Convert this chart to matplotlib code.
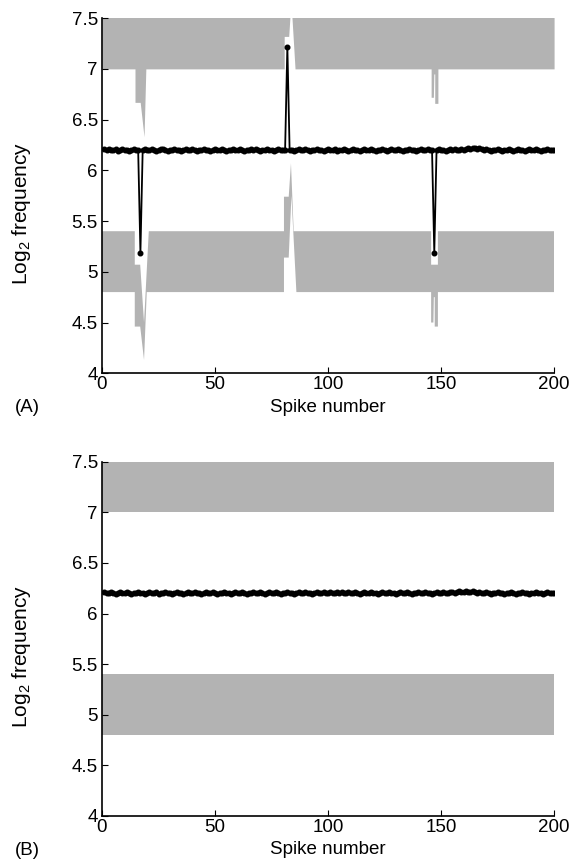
import numpy as np
import matplotlib
matplotlib.use('Agg')
import matplotlib.pyplot as plt

plt.rcParams.update({
    'font.family'      : 'Liberation Sans',
    'font.size'        : 13.5,
    'mathtext.default' : 'regular',
    'axes.linewidth'   : 1.2,
    'xtick.direction'  : 'in',
    'ytick.direction'  : 'in',
    'xtick.major.size' : 4,
    'ytick.major.size' : 4,
    'xtick.major.pad'  : 2,
    'ytick.major.pad'  : 3,
})
GRAY  = '#b3b3b3'
BLACK = '#000000'

# ─────────────────────────────────────────────────────
# data
# ─────────────────────────────────────────────────────
spike_n = np.arange(1, 201)

# panel A: log2 frequency per spike (three outliers at 17, 82, 147)
log_a = [
    6.21, 6.20, 6.21, 6.20, 6.20, 6.21, 6.19, 6.20, 6.21, 6.20,
    6.20, 6.19, 6.20, 6.21, 6.20, 6.20, 5.19, 6.20, 6.21, 6.20,
    6.20, 6.21, 6.20, 6.19, 6.20, 6.21, 6.21, 6.20, 6.19, 6.20,
    6.20, 6.21, 6.20, 6.20, 6.19, 6.20, 6.21, 6.20, 6.20, 6.21,
    6.20, 6.19, 6.20, 6.20, 6.21, 6.20, 6.20, 6.19, 6.20, 6.21,
    6.20, 6.20, 6.21, 6.20, 6.19, 6.20, 6.20, 6.21, 6.20, 6.20,
    6.21, 6.20, 6.19, 6.20, 6.20, 6.21, 6.20, 6.21, 6.20, 6.19,
    6.20, 6.20, 6.21, 6.20, 6.20, 6.19, 6.20, 6.21, 6.20, 6.20,
    6.20, 7.22, 6.20, 6.20, 6.19, 6.20, 6.21, 6.20, 6.20, 6.21,
    6.20, 6.19, 6.20, 6.20, 6.21, 6.20, 6.20, 6.19, 6.20, 6.21,
    6.20, 6.20, 6.21, 6.19, 6.20, 6.20, 6.21, 6.20, 6.19, 6.20,
    6.21, 6.20, 6.20, 6.19, 6.20, 6.21, 6.20, 6.20, 6.21, 6.20,
    6.19, 6.20, 6.20, 6.21, 6.20, 6.19, 6.20, 6.21, 6.20, 6.20,
    6.21, 6.20, 6.19, 6.20, 6.20, 6.21, 6.20, 6.20, 6.19, 6.20,
    6.21, 6.20, 6.20, 6.21, 6.20, 6.20, 5.19, 6.20, 6.21, 6.20,
    6.20, 6.19, 6.20, 6.21, 6.20, 6.21, 6.20, 6.20, 6.21, 6.20,
    6.21, 6.22, 6.21, 6.22, 6.22, 6.21, 6.22, 6.21, 6.20, 6.21,
    6.20, 6.19, 6.20, 6.20, 6.21, 6.20, 6.19, 6.20, 6.20, 6.21,
    6.20, 6.19, 6.20, 6.21, 6.20, 6.20, 6.19, 6.20, 6.21, 6.20,
    6.20, 6.21, 6.20, 6.19, 6.20, 6.20, 6.21, 6.20, 6.20, 6.20,
]

# panel B: same measure, no outliers
log_b = [
    6.21, 6.20, 6.20, 6.21, 6.20, 6.19, 6.20, 6.21, 6.20, 6.20,
    6.21, 6.20, 6.19, 6.20, 6.20, 6.21, 6.20, 6.20, 6.19, 6.20,
    6.21, 6.20, 6.20, 6.21, 6.19, 6.20, 6.20, 6.21, 6.20, 6.20,
    6.19, 6.20, 6.21, 6.20, 6.20, 6.19, 6.20, 6.21, 6.20, 6.20,
    6.21, 6.20, 6.20, 6.19, 6.20, 6.21, 6.20, 6.20, 6.21, 6.20,
    6.19, 6.20, 6.20, 6.21, 6.20, 6.20, 6.19, 6.20, 6.21, 6.20,
    6.20, 6.21, 6.20, 6.19, 6.20, 6.20, 6.21, 6.20, 6.20, 6.21,
    6.20, 6.19, 6.20, 6.21, 6.20, 6.20, 6.21, 6.20, 6.19, 6.20,
    6.20, 6.21, 6.20, 6.20, 6.19, 6.20, 6.21, 6.20, 6.20, 6.21,
    6.20, 6.20, 6.19, 6.20, 6.21, 6.20, 6.20, 6.21, 6.20, 6.20,
    6.21, 6.20, 6.20, 6.21, 6.20, 6.21, 6.20, 6.20, 6.21, 6.20,
    6.20, 6.21, 6.20, 6.19, 6.20, 6.21, 6.20, 6.20, 6.21, 6.20,
    6.20, 6.19, 6.20, 6.21, 6.20, 6.20, 6.21, 6.20, 6.20, 6.19,
    6.20, 6.21, 6.20, 6.20, 6.21, 6.20, 6.19, 6.20, 6.20, 6.21,
    6.20, 6.20, 6.21, 6.20, 6.20, 6.19, 6.20, 6.21, 6.20, 6.20,
    6.21, 6.20, 6.20, 6.21, 6.21, 6.20, 6.21, 6.22, 6.21, 6.21,
    6.22, 6.21, 6.21, 6.22, 6.21, 6.20, 6.21, 6.20, 6.20, 6.21,
    6.20, 6.19, 6.20, 6.20, 6.21, 6.20, 6.20, 6.19, 6.20, 6.20,
    6.21, 6.20, 6.19, 6.20, 6.20, 6.21, 6.20, 6.20, 6.19, 6.20,
    6.20, 6.21, 6.20, 6.20, 6.19, 6.20, 6.21, 6.20, 6.20, 6.20,
]

# panel A: gray bands (edge vertices)
up_a_x = [0, 14.6, 14.6, 16.9, 18.6, 19.4, 80.6, 80.6, 82.6, 83.6, 85.4,
          145.6, 145.6, 146.6, 146.8, 147.2, 147.2, 148.6, 148.6, 200]
up_a_y = [7.0, 7.0, 6.67, 6.67, 6.33, 7.0, 7.0, 7.32, 7.32, 7.67, 7.0,
          7.0, 6.72, 6.72, 6.95, 6.95, 6.66, 6.66, 7.0, 7.0]

lo_bot_a_x = [0, 14.5, 14.5, 16.9, 18.6, 19.8, 80.5, 80.5, 82.6, 83.8, 86.0,
              145.6, 145.6, 146.6, 146.8, 147.2, 147.2, 148.6, 148.6, 200]
lo_bot_a_y = [4.8, 4.8, 4.46, 4.46, 4.13, 4.8, 4.8, 5.14, 5.14, 5.75, 4.8,
              4.8, 4.5, 4.5, 4.75, 4.75, 4.46, 4.46, 4.8, 4.8]
lo_top_a_x = [0, 14.5, 14.5, 16.9, 18.6, 20.7, 80.5, 80.5, 82.6, 83.6, 84.8,
              145.6, 145.6, 148.6, 148.6, 200]
lo_top_a_y = [5.4, 5.4, 5.07, 5.07, 4.5, 5.4, 5.4, 5.74, 5.74, 6.07, 5.4,
              5.4, 5.07, 5.07, 5.4, 5.4]

# panel B: flat bands
band_b_x   = [0, 200]
up_b_lo    = [7.0, 7.0]
lo_b_lo    = [4.8, 4.8]
lo_b_hi    = [5.4, 5.4]
BAND_TOP   = 7.6

XTICKS = [0, 50, 100, 150, 200]
YTICKS = [4, 4.5, 5, 5.5, 6, 6.5, 7, 7.5]
YTICKLABELS = ['4', '4.5', '5', '5.5', '6', '6.5', '7', '7.5']


def style_axes(ax, tag):
    ax.set_xlim(0, 200)
    ax.set_ylim(4, 7.5)
    ax.set_xticks(XTICKS)
    ax.set_yticks(YTICKS)
    ax.set_yticklabels(YTICKLABELS)
    ax.spines['top'].set_visible(False)
    ax.spines['right'].set_visible(False)
    ax.set_xlabel('Spike number', labelpad=4)
    ax.set_ylabel('Log$_2$ frequency', fontsize=15)
    ax.yaxis.set_label_coords(-0.153, 0.45)
    ax.text(-0.165, -0.097, tag, transform=ax.transAxes,
            ha='center', va='center')


fig = plt.figure(figsize=(5.73, 8.64), dpi=100)

# ─────────────────────────────────────────────────────
# panel A
# ─────────────────────────────────────────────────────
ax = fig.add_axes([0.178, 0.568, 0.789, 0.411])
ax.fill_between(up_a_x, up_a_y, BAND_TOP, color=GRAY, lw=0)
ax.fill(np.concatenate([lo_bot_a_x, lo_top_a_x[::-1]]),
        np.concatenate([lo_bot_a_y, lo_top_a_y[::-1]]),
        color=GRAY, lw=0)
ax.plot(spike_n, log_a, '-', color=BLACK, lw=1.3,
        marker='o', ms=3.3, mfc=BLACK, mec=BLACK)
style_axes(ax, '(A)')

# ─────────────────────────────────────────────────────
# panel B
# ─────────────────────────────────────────────────────
ax = fig.add_axes([0.178, 0.0556, 0.789, 0.410])
ax.fill_between(band_b_x, up_b_lo, BAND_TOP, color=GRAY, lw=0)
ax.fill_between(band_b_x, lo_b_lo, lo_b_hi, color=GRAY, lw=0)
ax.plot(spike_n, log_b, '-', color=BLACK, lw=1.3,
        marker='o', ms=3.3, mfc=BLACK, mec=BLACK)
style_axes(ax, '(B)')

fig.savefig('out.png', dpi=100)
